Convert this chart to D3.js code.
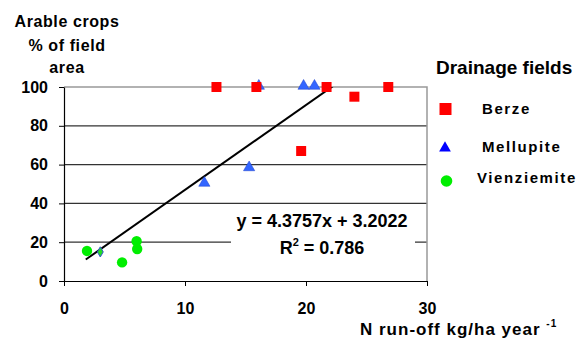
<!DOCTYPE html>
<html><head><meta charset="utf-8">
<script src="https://cdn.jsdelivr.net/npm/d3@7"></script>
<style>body{margin:0;background:#fff;} text{font-family:"Liberation Sans",Arial,sans-serif;font-weight:bold;fill:#000;}</style>
</head><body>
<svg id="c" width="579" height="340"></svg>
<script>
const berze = [[12.6,100],[15.9,100],[19.6,67],[21.7,100],[24.0,95],[26.8,100]];
const mellupite = [[11.6,50],[15.3,58],[16.1,100],[19.8,100],[20.7,100]];
const vienziemite = [[1.9,15.5],[4.8,9.6],[6.0,20.5],[6.05,16.5]];
const overlapPoint = [[3.0,15]];
const xTicks = [0,10,20,30];
const yTicks = [0,20,40,60,80,100];
const slope = 4.3757, intercept = 3.2022, r2 = 0.786;
const trendX = [1.8, 26.8];

const svg = d3.select("#c");
const x = d3.scaleLinear().domain([0,30]).range([64,427]);
const y = d3.scaleLinear().domain([0,100]).range([281,87]);

svg.append("g").selectAll("line").data(yTicks.filter(d=>d>0 && d<100)).join("line")
  .attr("x1",x(0)).attr("x2",x(30)).attr("y1",d=>y(d)).attr("y2",d=>y(d))
  .attr("stroke","#333").attr("stroke-width",1.2);
svg.append("path").attr("d",`M${x(0)},${y(100)}H${x(30)}V${y(0)}`).attr("fill","none").attr("stroke","#999").attr("stroke-width",1.5);

const xa = svg.append("g").attr("transform",`translate(0,${y(0)})`)
  .call(d3.axisBottom(x).tickValues(xTicks).tickSize(5).tickPadding(17).tickSizeOuter(0));
const ya = svg.append("g").attr("transform",`translate(${x(0)},0)`)
  .call(d3.axisLeft(y).tickValues(yTicks).tickSize(5).tickPadding(11).tickSizeOuter(0));
[xa,ya].forEach(a=>{a.selectAll("text").style("font-size","16px").style("font-family","Liberation Sans, Arial").style("font-weight","bold").attr("fill","#000");
  a.select(".domain").attr("stroke","#000").attr("stroke-width",1.2); a.selectAll(".tick line").attr("stroke","#000");});

svg.append("clipPath").attr("id","clip").append("rect").attr("x",x(0)).attr("y",y(100)).attr("width",x(30)-x(0)).attr("height",y(0)-y(100));
const eq = svg.append("g");
eq.append("rect").attr("x",231).attr("y",206).attr("width",184).attr("height",56).attr("fill","#fff");

svg.append("line").attr("clip-path","url(#clip)")
  .attr("x1",x(trendX[0])).attr("y1",y(slope*trendX[0]+intercept))
  .attr("x2",x(trendX[1])).attr("y2",y(slope*trendX[1]+intercept))
  .attr("stroke","#000").attr("stroke-width",2);

eq.append("text").attr("x",322).attr("y",227).attr("text-anchor","middle").style("font-size","18px")
  .text(`y = ${slope}x + ${intercept}`);
const r = eq.append("text").attr("x",322).attr("y",254).attr("text-anchor","middle").style("font-size","18px");
r.append("tspan").text("R");
r.append("tspan").attr("dy",-8).style("font-size","11px").text("2");
r.append("tspan").attr("dy",8).text(` = ${r2}`);

const sym = (type,size)=>d3.symbol().type(type).size(size)();
svg.append("g").selectAll("path").data(mellupite).join("path")
  .attr("transform",d=>`translate(${x(d[0])},${y(d[1])-1})`).attr("d",sym(d3.symbolTriangle,55))
  .attr("fill","#3366ff").attr("stroke","#1a3fcc").attr("stroke-width",0.5);
svg.append("g").selectAll("path").data(berze).join("path")
  .attr("transform",d=>`translate(${x(d[0])},${y(d[1])})`).attr("d",sym(d3.symbolSquare,100))
  .attr("fill","#ff0000");
svg.append("g").selectAll("circle").data(vienziemite).join("circle")
  .attr("cx",d=>x(d[0])).attr("cy",d=>y(d[1])).attr("r",5.2).attr("fill","#00ee00");
svg.append("g").selectAll("path").data(overlapPoint).join("path")
  .attr("transform",d=>`translate(${x(d[0])},${y(d[1])})`).attr("d",sym(d3.symbolDiamond,30))
  .attr("fill","#22dd22").attr("stroke","#3355cc").attr("stroke-width",1);

[["Arable crops",67,27],["% of field",67,51],["area",67,73]].forEach(([t,cx,cy])=>
  svg.append("text").attr("x",cx).attr("y",cy).attr("text-anchor","middle").style("font-size","16px").style("letter-spacing","0.6px").text(t));
const xt = svg.append("text").attr("x",360).attr("y",335).style("font-size","17px").style("letter-spacing","1px");
xt.append("tspan").text("N run-off kg/ha year ");
xt.append("tspan").attr("dy",-8).style("font-size","10px").text("-1");

svg.append("text").attr("x",436).attr("y",74).style("font-size","19px").text("Drainage fields");
const leg = [{n:"Berze",t:"sq",y:109,ty:114,tx:482},{n:"Mellupite",t:"tri",y:148,ty:152,tx:482},{n:"Vienziemite",t:"ci",y:181,ty:183,tx:477}];
leg.forEach(l=>{
  if(l.t==="sq") svg.append("path").attr("transform",`translate(445.5,${l.y})`).attr("d",sym(d3.symbolSquare,144)).attr("fill","#ff0000");
  if(l.t==="tri") svg.append("path").attr("transform",`translate(445,${l.y})`).attr("d",sym(d3.symbolTriangle,60)).attr("fill","#0000ff");
  if(l.t==="ci") svg.append("circle").attr("cx",446.5).attr("cy",l.y).attr("r",5.8).attr("fill","#00ee00");
  svg.append("text").attr("x",l.tx).attr("y",l.ty).style("font-size","15px").style("letter-spacing","1.6px").text(l.n);
});
</script>
</body></html>
